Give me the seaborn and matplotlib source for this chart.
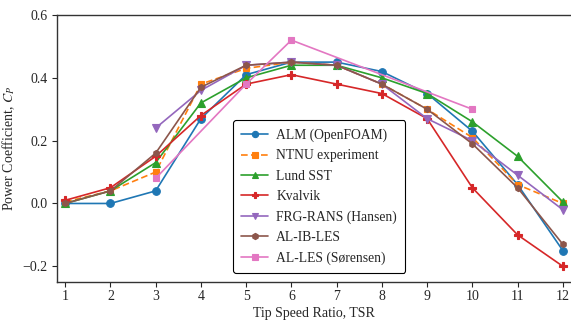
import numpy as np
import pandas as pd
import matplotlib
matplotlib.use("Agg")
import matplotlib.pyplot as plt
import seaborn as sns

series_names = ["ALM (OpenFOAM)", "NTNU experiment", "Lund SST", "Kvalvik",
                "FRG-RANS (Hansen)", "AL-IB-LES", "AL-LES (Sørensen)"]

tsr_full = [1, 2, 3, 4, 5, 6, 7, 8, 9, 10, 11, 12]
alm = [0.0, 0.0, 0.04, 0.27, 0.41, 0.45, 0.45, 0.42, 0.35, 0.23, 0.06, -0.15]
ntnu = [0.005, 0.04, 0.10, 0.38, 0.43, 0.45, 0.44, 0.38, 0.30, 0.21, 0.06, 0.0]
lund = [0.0, 0.04, 0.13, 0.32, 0.40, 0.44, 0.44, 0.40, 0.35, 0.26, 0.15, 0.005]
kvalvik = [0.01, 0.05, 0.15, 0.28, 0.38, 0.41, 0.38, 0.35, 0.27, 0.05, -0.10, -0.20]
tsr_frg = [3, 4, 5, 6, 7, 8, 9, 10, 11, 12]
frg = [0.24, 0.36, 0.44, 0.45, 0.44, 0.38, 0.27, 0.20, 0.09, -0.02]
alib = [0.0, 0.04, 0.16, 0.37, 0.44, 0.45, 0.44, 0.38, 0.30, 0.19, 0.05, -0.13]
tsr_alles = [3, 5, 6, 10]
alles = [0.08, 0.38, 0.52, 0.30]

x_ticks = list(range(1, 13))
y_ticks = [-0.2, 0.0, 0.2, 0.4, 0.6]

frames = []
for name, xs, ys in [
    (series_names[0], tsr_full, alm),
    (series_names[1], tsr_full, ntnu),
    (series_names[2], tsr_full, lund),
    (series_names[3], tsr_full, kvalvik),
    (series_names[4], tsr_frg, frg),
    (series_names[5], tsr_full, alib),
    (series_names[6], tsr_alles, alles),
]:
    frames.append(pd.DataFrame({"TSR": xs, "CP": ys, "Model": name}))
df = pd.concat(frames, ignore_index=True)

sns.set_style("ticks")
plt.rcParams["font.family"] = ["Liberation Serif", "DejaVu Serif"]
plt.rcParams["mathtext.fontset"] = "stix"
plt.rcParams["font.size"] = 10

fig = plt.figure(figsize=(5.71, 3.2), dpi=100)
ax = fig.add_axes([57 / 571, 1 - 282 / 320, 514 / 571, 267 / 320])

palette = dict(zip(series_names, sns.color_palette("tab10", 7)))
markers = dict(zip(series_names, ["o", "s", "^", "P", "v", "h", "s"]))
dashes = {n: "" for n in series_names}
dashes["NTNU experiment"] = (4, 2)

sns.lineplot(data=df, x="TSR", y="CP", hue="Model", style="Model",
             hue_order=series_names, style_order=series_names,
             palette=palette, markers=markers, dashes=dashes,
             markersize=5.5, linewidth=1.2, markeredgewidth=0.8,
             ax=ax, legend="full")

sizes = {"o": 5.5, "s": 5.0, "^": 6, "P": 5.8, "v": 6, "h": 4.5}
for ln in ax.lines:
    c = ln.get_color()
    ln.set_markeredgecolor(c)
    ln.set_markerfacecolor(c)
    m = ln.get_marker()
    if isinstance(m, str) and m in sizes:
        ln.set_markersize(sizes[m])

ax.set_xlim(0.82, 12.18)
ax.set_ylim(-0.25, 0.6)
ax.set_xticks(x_ticks)
ax.set_yticks(y_ticks)
ax.set_yticklabels(["\u22120.2", "0.0", "0.2", "0.4", "0.6"])
ax.set_xlabel("Tip Speed Ratio, TSR", fontsize=10, labelpad=3)
ax.set_ylabel("Power Coefficient, $C_P$", fontsize=10)
ax.tick_params(direction="out", length=3.5, width=0.8, labelsize=10)
ax.tick_params(axis="x", pad=2)
for s in ["left", "bottom", "top"]:
    ax.spines[s].set_linewidth(1.0)
    ax.spines[s].set_color("#333333")
ax.spines["right"].set_visible(False)

handles, labels = ax.get_legend_handles_labels()
for h in handles:
    c = h.get_color()
    h.set_markeredgecolor(c)
    h.set_markerfacecolor(c)
    h.set_markersize(4.5)
leg = ax.legend(handles, labels, loc="lower left", bbox_to_anchor=(0.342, 0.033),
                borderaxespad=0, frameon=True, fancybox=True,
                edgecolor="black", fontsize=9.8, handlelength=2.0,
                labelspacing=0.54, borderpad=0.6, handletextpad=0.6)
leg.get_frame().set_linewidth(0.8)
leg.get_frame().set_alpha(1)

fig.savefig("out.png", dpi=100)
